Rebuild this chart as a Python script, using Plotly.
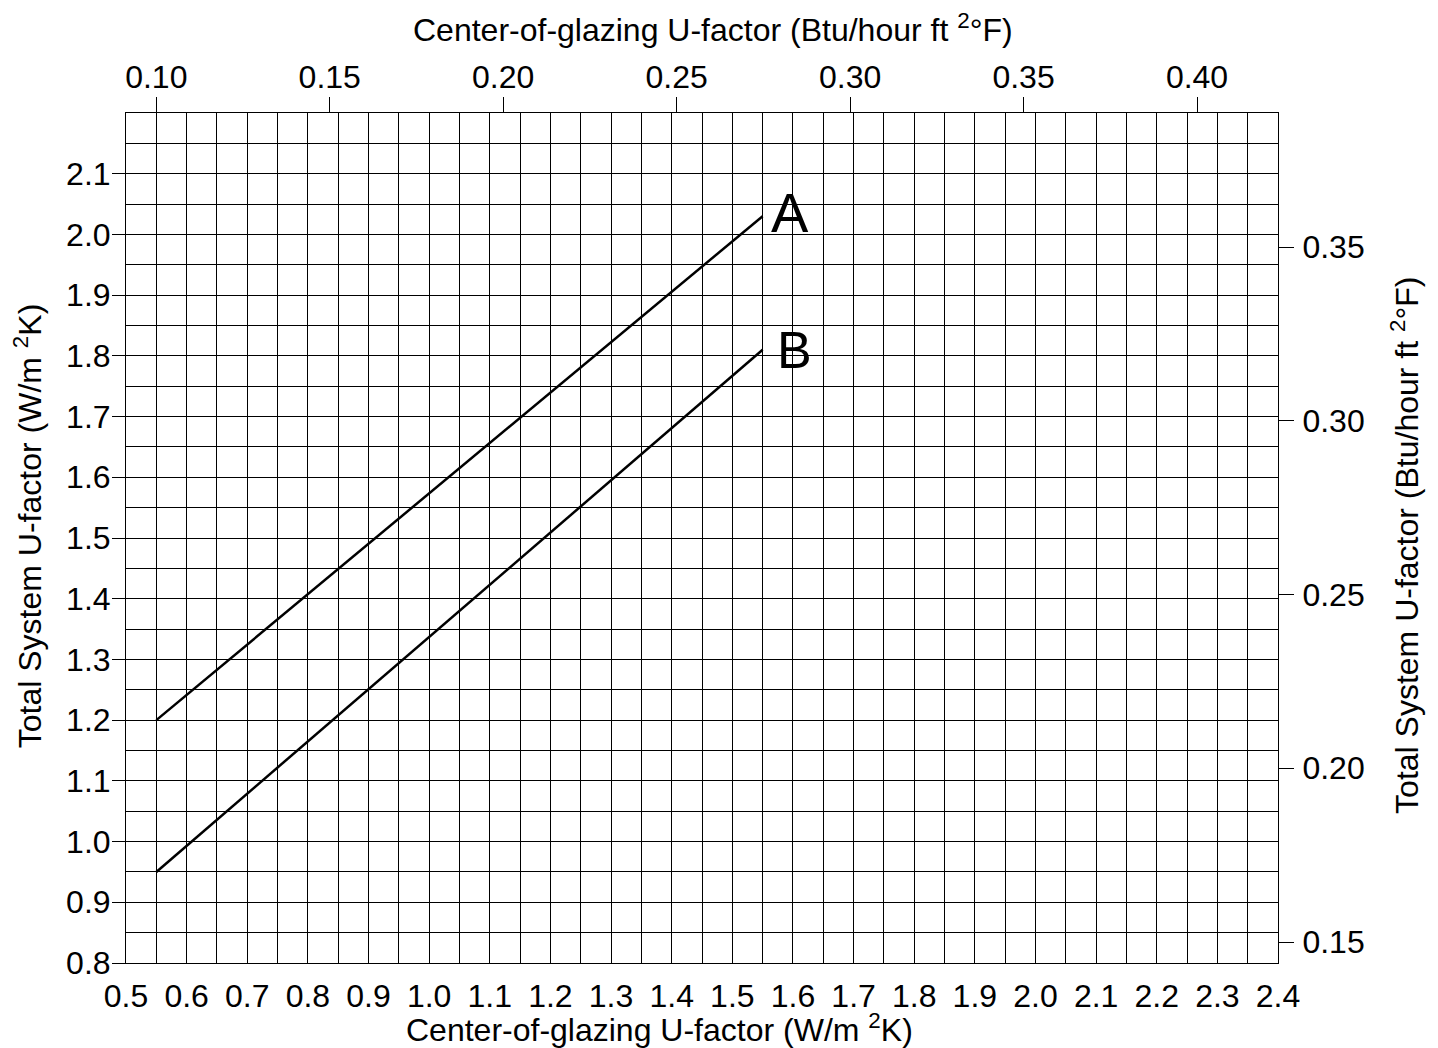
import plotly.graph_objects as go

# Data (W/m2K)
center_glazing = [0.55, 1.55]
system_A = [1.20, 2.03]
system_B = [0.95, 1.81]

x_ticks = [0.5, 0.6, 0.7, 0.8, 0.9, 1.0, 1.1, 1.2, 1.3, 1.4, 1.5, 1.6, 1.7, 1.8, 1.9, 2.0, 2.1, 2.2, 2.3, 2.4]
y_ticks = [0.8, 0.9, 1.0, 1.1, 1.2, 1.3, 1.4, 1.5, 1.6, 1.7, 1.8, 1.9, 2.0, 2.1]
top_ticks = [0.10, 0.15, 0.20, 0.25, 0.30, 0.35, 0.40]
right_ticks = [0.15, 0.20, 0.25, 0.30, 0.35]

FONT = "Liberation Sans, Arial, sans-serif"
FS = 32
TS = 32

fig = go.Figure()
fig.add_trace(go.Scatter(x=center_glazing, y=system_A, mode="lines",
                         line=dict(color="black", width=2.5), showlegend=False, hoverinfo="skip"))
fig.add_trace(go.Scatter(x=center_glazing, y=system_B, mode="lines",
                         line=dict(color="black", width=2.5), showlegend=False, hoverinfo="skip"))
fig.add_trace(go.Scatter(x=[0.2], y=[0.25], xaxis="x2", yaxis="y2", mode="markers",
                         marker=dict(opacity=0), showlegend=False, hoverinfo="skip"))

fig.update_layout(
    width=1430, height=1040,
    margin=dict(l=118, r=160, t=105, b=85, pad=0),
    paper_bgcolor="white", plot_bgcolor="white",
    font=dict(family=FONT, size=FS, color="black"),
    xaxis=dict(range=[0.5, 2.4], tickvals=x_ticks, tickformat=".1f",
               showgrid=True, gridcolor="black", gridwidth=1,
               minor=dict(dtick=0.05, tick0=0.5, showgrid=True, gridcolor="black", gridwidth=1),
               showline=True, linecolor="black", linewidth=1, mirror=True,
               ticks="", ticklabelstandoff=5, zeroline=False,
               tickfont=dict(size=FS)),
    yaxis=dict(range=[0.8, 2.2], tickvals=y_ticks, tickformat=".1f",
               showgrid=True, gridcolor="black", gridwidth=1,
               minor=dict(dtick=0.05, tick0=0.8, showgrid=True, gridcolor="black", gridwidth=1),
               showline=True, linecolor="black", linewidth=1, mirror=True,
               ticks="outside", ticklen=13, tickcolor="black", ticklabelstandoff=-5,
               zeroline=False, tickfont=dict(size=FS)),
    xaxis2=dict(overlaying="x", side="top", range=[0.09127, 0.42334], tickvals=top_ticks,
                tickformat=".2f", showgrid=False, zeroline=False, showline=False,
                ticks="outside", ticklen=15, tickcolor="black", ticklabelstandoff=-4,
                tickfont=dict(size=FS)),
    yaxis2=dict(overlaying="y", side="right", range=[0.14396, 0.38856], tickvals=right_ticks,
                tickformat=".2f", showgrid=False, zeroline=False, showline=False,
                ticks="outside", ticklen=15, tickcolor="black", ticklabelstandoff=2,
                tickfont=dict(size=FS)),
)

annots = [
    dict(text="Center-of-glazing U-factor (Btu/hour ft <sup>2</sup>°F)", x=0.5096, y=1.10,
         xref="paper", yref="paper", showarrow=False, xanchor="center", yanchor="middle",
         font=dict(size=TS)),
    dict(text="Center-of-glazing U-factor (W/m <sup>2</sup>K)", x=0.4627, y=-0.0765,
         xref="paper", yref="paper", showarrow=False, xanchor="center", yanchor="middle",
         font=dict(size=TS)),
    dict(text="Total System U-factor (W/m <sup>2</sup>K)", x=-0.0851, y=0.515, textangle=-90,
         xref="paper", yref="paper", showarrow=False, xanchor="center", yanchor="middle",
         font=dict(size=TS)),
    dict(text="Total System U-factor (Btu/hour ft <sup>2</sup>°F)", x=1.1102, y=0.4918, textangle=-90,
         xref="paper", yref="paper", showarrow=False, xanchor="center", yanchor="middle",
         font=dict(size=TS)),
    dict(text="A", x=1.595, y=2.036, xref="x", yref="y", showarrow=False,
         xanchor="center", yanchor="middle", font=dict(size=56)),
    dict(text="B", x=1.603, y=1.81, xref="x", yref="y", showarrow=False,
         xanchor="center", yanchor="middle", font=dict(size=52)),
]
fig.update_layout(annotations=annots)

fig.write_html("out.html")
